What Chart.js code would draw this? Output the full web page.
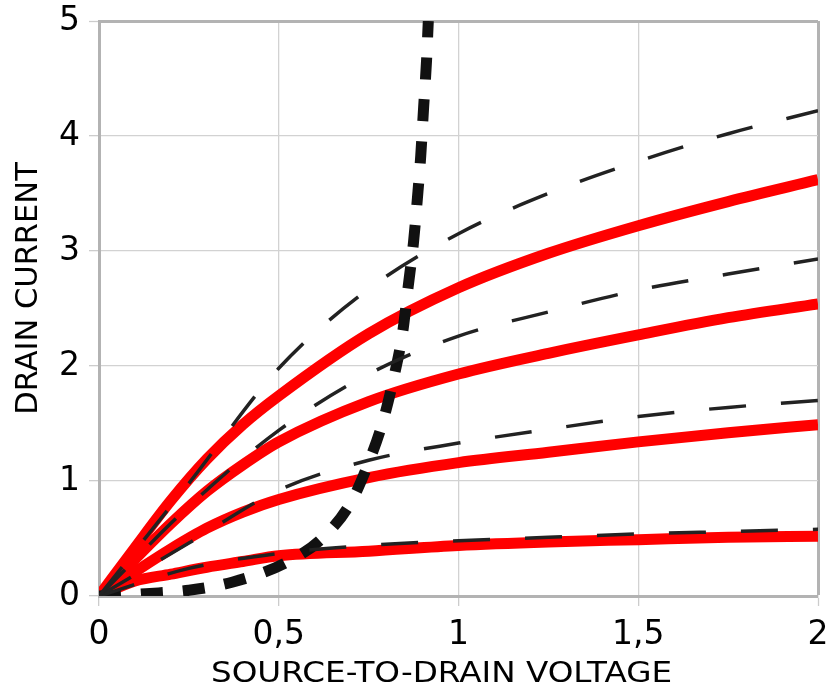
<!DOCTYPE html>
<html><head><meta charset="utf-8">
<script src="https://cdn.jsdelivr.net/npm/chart.js@4/dist/chart.umd.min.js"></script>
<style>html,body{margin:0;padding:0;background:#fff}</style>
</head><body>
<canvas id="c" width="831" height="687"></canvas>
<script>
const xTitle = 'SOURCE-TO-DRAIN VOLTAGE';
const yTitle = 'DRAIN CURRENT';
const xTicks = [0, 0.5, 1, 1.5, 2];
const yTicks = [0, 1, 2, 3, 4, 5];

// red (solid) curves
const redX = [0, 0.1, 0.2, 0.3, 0.4, 0.5, 0.75, 1, 1.25, 1.5, 1.75, 2];
const red1 = [0, 0.42, 0.83, 1.19, 1.49, 1.74, 2.28, 2.68, 2.98, 3.22, 3.43, 3.62];
const red2 = [0, 0.32, 0.63, 0.91, 1.14, 1.34, 1.69, 1.93, 2.11, 2.27, 2.42, 2.54];
const red3 = [0, 0.21, 0.41, 0.59, 0.73, 0.84, 1.03, 1.16, 1.25, 1.34, 1.42, 1.49];
const red4 = [0, 0.13, 0.19, 0.25, 0.30, 0.35, 0.39, 0.44, 0.47, 0.49, 0.51, 0.52];

// black dashed curves
const dashX = [0, 0.25, 0.5, 0.75, 1, 1.25, 1.5, 1.75, 2];
const dash1 = [0, 0.98, 1.98, 2.67, 3.15, 3.50, 3.78, 4.02, 4.22];
const dash2 = [0, 0.78, 1.44, 1.93, 2.26, 2.47, 2.66, 2.80, 2.93];
const dash3 = [0, 0.46, 0.92, 1.18, 1.33, 1.45, 1.56, 1.64, 1.70];
const dash4 = [0, 0.24, 0.37, 0.44, 0.48, 0.51, 0.54, 0.56, 0.58];

// thick dotted curve
const dotX = [0, 0.06, 0.13, 0.25, 0.37, 0.52, 0.62, 0.70, 0.75, 0.79, 0.82, 0.845, 0.86, 0.875, 0.886, 0.895, 0.903, 0.911, 0.916];
const dotY = [0, 0.005, 0.02, 0.05, 0.12, 0.29, 0.50, 0.81, 1.16, 1.52, 1.90, 2.30, 2.69, 3.08, 3.47, 3.83, 4.25, 4.65, 5.0];

const pts = (xs, ys) => xs.map((x, i) => ({x: x, y: ys[i]}));
const FONT = 'DejaVu Sans';

const redStyle = {borderColor: '#ff0000', borderWidth: 11, order: 3};
const dashStyle = {borderColor: '#222222', borderWidth: 3.5, borderDash: [37, 35], order: 1};

const datasets = [
  Object.assign({data: pts(redX, red1)}, redStyle),
  Object.assign({data: pts(redX, red2)}, redStyle),
  Object.assign({data: pts(redX, red3)}, redStyle),
  Object.assign({data: pts(redX, red4)}, redStyle),
  {data: pts(dotX, dotY), borderColor: '#111111', borderWidth: 11, borderDash: [22, 20], order: 2},
  Object.assign({data: pts(dashX, dash1)}, dashStyle),
  Object.assign({data: pts(dashX, dash2)}, dashStyle),
  Object.assign({data: pts(dashX, dash3)}, dashStyle),
  Object.assign({data: pts(dashX, dash4)}, dashStyle)
];

// axis titles (drawn as canvas text)
const axisTitlePlugin = {
  id: 'axisTitles',
  afterDraw(chart) {
    const a = chart.chartArea, c = chart.ctx;
    c.save();
    c.fillStyle = '#000';
    c.textAlign = 'center';
    c.textBaseline = 'alphabetic';
    c.font = '29px "' + FONT + '"';
    c.translate((a.left + a.right) / 2 - 17, chart.height - 5);
    c.scale(1.125, 1);
    c.fillText(xTitle, 0, 0);
    c.restore();
    c.save();
    c.fillStyle = '#000';
    c.textAlign = 'center';
    c.textBaseline = 'alphabetic';
    c.font = '30.5px "' + FONT + '"';
    c.translate(37, (a.top + a.bottom) / 2 - 20);
    c.rotate(-Math.PI / 2);
    c.fillText(yTitle, 0, 0);
    c.restore();
  }
};

const zeroPad = s => { s.paddingTop = 0; s.paddingBottom = 0; s.paddingLeft = 0; s.paddingRight = 0; };

new Chart(document.getElementById('c'), {
  type: 'line',
  data: {datasets: datasets},
  plugins: [axisTitlePlugin],
  options: {
    responsive: false,
    animation: false,
    layout: {padding: {left: 0, right: 13, top: 21, bottom: 0}},
    plugins: {legend: {display: false}, tooltip: {enabled: false}},
    elements: {point: {radius: 0}, line: {cubicInterpolationMode: 'monotone', fill: false, borderCapStyle: 'butt'}},
    scales: {
      x: {
        type: 'linear', min: 0, max: 2,
        afterBuildTicks: s => { s.ticks = xTicks.map(v => ({value: v})); },
        afterFit: s => { s.height = 91; zeroPad(s); },
        ticks: {autoSkip: false, maxRotation: 0, padding: 10, color: '#000',
          font: {family: FONT, size: 33},
          callback: v => String(v).replace('.', ',')},
        grid: {
          color: ctx => (ctx.tick && ctx.tick.value === 2) ? '#b3b3b3' : '#d2d2d2',
          lineWidth: ctx => (ctx.tick && ctx.tick.value === 2) ? 3 : 1.3,
          tickLength: 10, tickColor: '#cccccc', tickWidth: 1.3
        },
        border: {color: '#b3b3b3', width: 3},
        title: {display: false, text: xTitle}
      },
      y: {
        type: 'linear', min: 0, max: 5,
        afterBuildTicks: s => { s.ticks = yTicks.map(v => ({value: v})); },
        afterFit: s => { s.width = 99; zeroPad(s); },
        ticks: {autoSkip: false, padding: 9, color: '#000',
          font: {family: FONT, size: 33}},
        grid: {
          color: ctx => (ctx.tick && ctx.tick.value === 5) ? '#b3b3b3' : '#d2d2d2',
          lineWidth: ctx => (ctx.tick && ctx.tick.value === 5) ? 3 : 1.3,
          tickLength: 10, tickColor: '#cccccc', tickWidth: 1.3
        },
        border: {color: '#b3b3b3', width: 3},
        title: {display: false, text: yTitle}
      }
    }
  }
});
</script>
</body></html>
